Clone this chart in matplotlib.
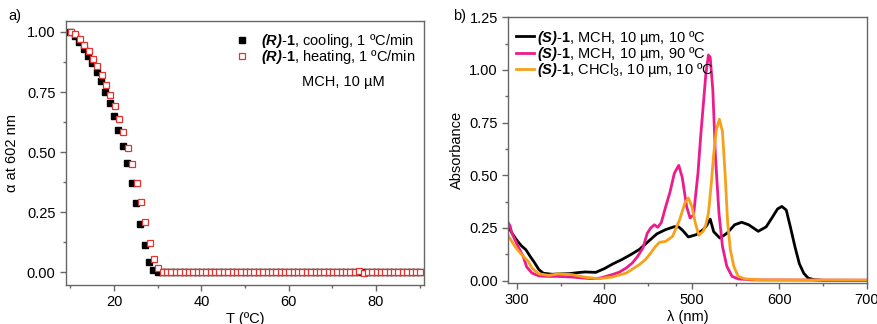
import numpy as np
import matplotlib
matplotlib.use("Agg")
import matplotlib.pyplot as plt
from matplotlib.ticker import MultipleLocator

plt.rcParams["font.family"] = ["Liberation Sans", "DejaVu Sans"]
plt.rcParams["mathtext.fontset"] = "custom"
plt.rcParams["mathtext.rm"] = "Liberation Sans"
plt.rcParams["mathtext.it"] = "Liberation Sans:italic"
plt.rcParams["mathtext.bf"] = "Liberation Sans:bold"
if "mathtext.bfit" in plt.rcParams:
    plt.rcParams["mathtext.bfit"] = "Liberation Sans:italic:bold"
    RS = r"$\mathbfit{(R)}$-$\mathbf{1}$"
    SS = r"$\mathbfit{(S)}$-$\mathbf{1}$"
else:
    RS = r"$\mathit{(R)}$-$\mathbf{1}$"
    SS = r"$\mathit{(S)}$-$\mathbf{1}$"

# ---- panel a: degree of aggregation vs temperature ----
T = list(range(10, 91))
cool_head = [1.0, 0.982, 0.956, 0.928, 0.900, 0.869, 0.834, 0.794, 0.751, 0.704,
             0.651, 0.592, 0.527, 0.454, 0.372, 0.288, 0.203, 0.115, 0.043, 0.011,
             0.002]
heat_head = [1.0, 0.992, 0.972, 0.947, 0.920, 0.889, 0.858, 0.820, 0.781, 0.737,
             0.692, 0.639, 0.582, 0.516, 0.450, 0.372, 0.295, 0.209, 0.124, 0.054,
             0.017, 0.002]
cool_tail = [0.0, 0.0, 0.0, 0.0, 0.0, 0.0, 0.0, 0.0, 0.0, 0.0,
             0.0, 0.0, 0.0, 0.0, 0.0, 0.0, 0.0, 0.002, 0.003, 0.002,
             0.0, 0.0, 0.0, 0.0, 0.0, 0.0, 0.002, 0.0, 0.0, 0.0,
             0.003, 0.0, 0.0, 0.0, 0.002, 0.003, 0.002, 0.002, 0.0, 0.002,
             0.002, 0.0, 0.0, 0.0, 0.0, 0.0, 0.0, 0.0, 0.0, 0.0,
             0.003, 0.003, 0.0, 0.0, 0.0, 0.0, 0.0, 0.0, 0.002, 0.0]
heat_tail = [0.0, 0.0, 0.0, 0.0, 0.0, 0.0, 0.0, 0.0, 0.0, 0.0,
             0.0, 0.0, 0.0, 0.0, 0.0, 0.0, 0.0, 0.0, 0.0, 0.0,
             0.0, 0.0, 0.0, 0.0, 0.0, 0.0, 0.0, 0.0, 0.0, 0.0,
             0.0, 0.0, 0.0, 0.0, 0.0, 0.0, 0.0, 0.0, 0.0, 0.0,
             0.0, 0.0, 0.0, 0.0, 0.005, -0.004, 0.0, 0.0, 0.0, 0.0,
             0.0, 0.0, 0.0, 0.0, 0.0, 0.0, 0.0, 0.0, 0.0]
cooling = cool_head + cool_tail
heating = heat_head + heat_tail

# ---- panel b: absorption spectra ----
black_wl = [290, 295, 300, 305, 310, 315, 320, 325, 330, 340, 350, 360, 370, 378,
            390, 400, 410, 420, 430, 440, 450, 460, 470, 480, 485, 490, 496, 505,
            513, 517, 521, 525, 532, 540, 549, 557, 565, 576, 585, 592, 598, 603,
            608, 613, 618, 623, 628, 633, 640, 650, 700]
black_A = [0.256, 0.22, 0.19, 0.165, 0.147, 0.115, 0.085, 0.052, 0.035, 0.03, 0.032,
           0.033, 0.038, 0.041, 0.039, 0.057, 0.08, 0.1, 0.123, 0.148, 0.185, 0.222,
           0.242, 0.256, 0.255, 0.236, 0.207, 0.218, 0.242, 0.262, 0.292, 0.232,
           0.202, 0.224, 0.265, 0.277, 0.265, 0.234, 0.255, 0.3, 0.34, 0.352, 0.335,
           0.25, 0.16, 0.08, 0.035, 0.012, 0.004, 0.001, 0.0]
mag_wl = [290, 292, 294, 298, 302, 307, 311, 317, 325, 335, 345, 363, 375, 386, 395,
          402, 410, 417, 425, 432, 438, 444, 449, 453, 457, 461, 465, 470, 475, 480,
          485, 489, 494, 498, 502, 507, 510, 513, 516, 519, 521, 524, 527, 531, 535,
          540, 546, 553, 570, 700]
mag_A = [0.274, 0.26, 0.226, 0.19, 0.155, 0.115, 0.065, 0.036, 0.022, 0.02, 0.02,
         0.017, 0.012, 0.009, 0.012, 0.02, 0.03, 0.04, 0.06, 0.084, 0.115, 0.155,
         0.225, 0.25, 0.265, 0.253, 0.275, 0.35, 0.42, 0.51, 0.547, 0.49, 0.352,
         0.297, 0.313, 0.51, 0.68, 0.83, 0.98, 1.071, 1.06, 0.905, 0.59, 0.321,
         0.163, 0.068, 0.02, 0.008, 0.003, 0.002]
org_wl = [290, 294, 298, 302, 309, 313, 317, 321, 325, 336, 348, 363, 378, 394, 409,
          425, 440, 447, 453, 458, 463, 470, 478, 482, 486, 492, 496, 500, 504, 508,
          513, 516, 519, 522, 525, 528, 531.5, 535, 538, 541, 544, 548, 553, 561,
          580, 700]
org_A = [0.213, 0.186, 0.16, 0.139, 0.107, 0.09, 0.06, 0.045, 0.032, 0.025, 0.032,
         0.028, 0.016, 0.009, 0.017, 0.036, 0.076, 0.1, 0.131, 0.16, 0.182, 0.186,
         0.21, 0.25, 0.289, 0.368, 0.392, 0.352, 0.273, 0.215, 0.234, 0.265, 0.321,
         0.45, 0.6, 0.716, 0.766, 0.708, 0.51, 0.273, 0.147, 0.068, 0.02, 0.008,
         0.003, 0.002]

MAGENTA = "#ec1c8c"
ORANGE = "#f7a11a"
SPINE = "#666666"

fig = plt.figure(figsize=(8.77, 3.24), dpi=100)
ax1 = fig.add_axes([0.0753, 0.1204, 0.4082, 0.8146])
ax2 = fig.add_axes([0.5796, 0.1275, 0.4086, 0.8191])

for ax in (ax1, ax2):
    for s in ax.spines.values():
        s.set_color(SPINE)
        s.set_linewidth(1.0)
    ax.tick_params(which="both", direction="out", top=False, right=False,
                   labelsize=10.5, color=SPINE)
    ax.tick_params(which="major", length=4, width=1)
    ax.tick_params(which="minor", length=2.5, width=1)

# panel a
ax1.plot(T, cooling, ls="none", marker="s", ms=4, color="black",
         label=RS + ", cooling, 1 ºC/min")
ax1.plot([t + 0.15 for t in T[:len(heating)]], heating, ls="none", marker="s", ms=4,
         mfc="white", mec="#e8302c", mew=0.9, label=RS + ", heating, 1 ºC/min")
ax1.set_xlim(9, 91)
ax1.set_ylim(-0.052, 1.045)
ax1.xaxis.set_major_locator(MultipleLocator(20))
ax1.xaxis.set_minor_locator(MultipleLocator(10))
ax1.yaxis.set_major_locator(MultipleLocator(0.25))
ax1.yaxis.set_minor_locator(MultipleLocator(0.125))
ax1.yaxis.set_major_formatter(matplotlib.ticker.FormatStrFormatter("%.2f"))
ax1.set_xlabel("T (ºC)", fontsize=10.5, labelpad=2)
ax1.set_ylabel("α at 602 nm", fontsize=10.5, labelpad=6)
ax1.legend(loc="upper right", frameon=False, fontsize=10.5, handlelength=1.0,
           handletextpad=0.8, borderaxespad=0.2, labelspacing=-0.14,
           bbox_to_anchor=(1.0, 0.993))
ax1.text(0.775, 0.769, "MCH, 10 µM", transform=ax1.transAxes, ha="center",
         va="center", fontsize=10.5)
fig.text(0.009, 0.95, "a)", fontsize=10.5, va="center")

# panel b
ax2.plot(black_wl, black_A, color="black", lw=2.0,
         label=SS + ", MCH, 10 µm, 10 ºC")
ax2.plot(mag_wl, mag_A, color=MAGENTA, lw=2.0,
         label=SS + ", MCH, 10 µm, 90 ºC")
ax2.plot(org_wl, org_A, color=ORANGE, lw=2.0,
         label=SS + ", CHCl$_3$, 10 µm, 10 ºC")
ax2.set_xlim(290, 700)
ax2.set_ylim(-0.01, 1.25)
ax2.xaxis.set_major_locator(MultipleLocator(100))
ax2.xaxis.set_minor_locator(MultipleLocator(50))
ax2.yaxis.set_major_locator(MultipleLocator(0.25))
ax2.yaxis.set_minor_locator(MultipleLocator(0.125))
ax2.yaxis.set_major_formatter(matplotlib.ticker.FormatStrFormatter("%.2f"))
ax2.set_xlabel("λ (nm)", fontsize=10.5, labelpad=2)
ax2.set_ylabel("Absorbance", fontsize=10.5, labelpad=4)
ax2.legend(loc="upper left", frameon=False, fontsize=10.5, handlelength=1.25,
           handletextpad=0.2, borderaxespad=0.2, labelspacing=-0.12,
           borderpad=0.3, bbox_to_anchor=(0.0, 0.985))
fig.text(0.517, 0.95, "b)", fontsize=10.5, va="center")

fig.savefig("out.png", dpi=100)
